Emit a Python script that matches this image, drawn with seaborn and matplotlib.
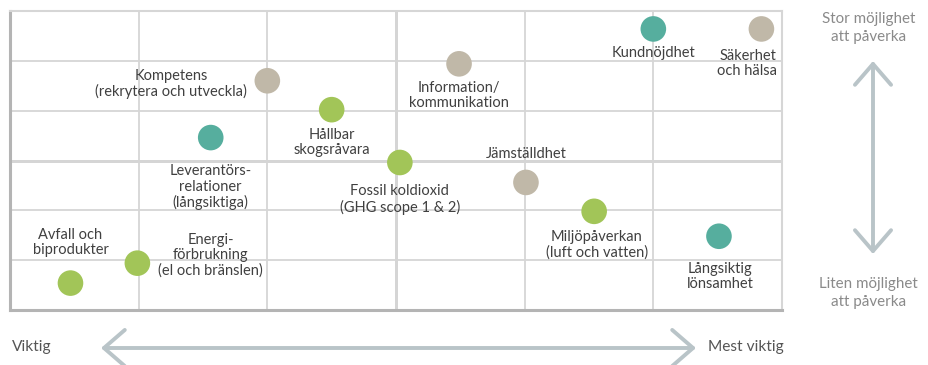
import matplotlib
matplotlib.use("Agg")
import matplotlib.pyplot as plt
import seaborn as sns
import pandas as pd

# ---- data ----
labels = [
    "Kundnöjdhet", "Säkerhet\noch hälsa", "Information/\nkommunikation",
    "Kompetens\n(rekrytera och utveckla)", "Hållbar\nskogsråvara",
    "Leverantörs-\nrelationer\n(långsiktiga)", "Fossil koldioxid\n(GHG scope 1 & 2)",
    "Jämställdhet", "Miljöpåverkan\n(luft och vatten)", "Långsiktig\nlönsamhet",
    "Energi-\nförbrukning\n(el och bränslen)", "Avfall och\nbiprodukter",
]
importance = [5.00, 5.84, 3.49, 2.00, 2.50, 1.56, 3.03, 4.01, 4.54, 5.51, 0.99, 0.47]
influence = [5.64, 5.64, 4.94, 4.60, 4.02, 3.46, 2.96, 2.56, 1.98, 1.48, 0.94, 0.54]
group = ["Ekonomi", "Socialt", "Socialt", "Socialt", "Miljö", "Ekonomi",
         "Miljö", "Socialt", "Miljö", "Ekonomi", "Miljö", "Miljö"]
# label offsets (data units) relative to the point
label_dx = [0.00, -0.14, 0.00, -0.75, 0.00, 0.00, 0.00, 0.00, 0.02, 0.01, 0.57, 0.00]
label_dy = [-0.48, -0.70, -0.64, -0.06, -0.66, -1.00, -0.74, 0.58, -0.68, -0.81, 0.16, 0.82]
label_ha = ["center", "right", "center", "center", "center", "center", "center",
            "center", "center", "center", "center", "center"]

palette = {"Ekonomi": "#56ae9e", "Socialt": "#c0b8a8", "Miljö": "#a2c558"}

df = pd.DataFrame({"label": labels, "x": importance, "y": influence, "group": group})

sns.set_theme(style="white")
plt.rcParams["font.family"] = ["Lato", "DejaVu Sans"]

W, H = 929, 365
fig = plt.figure(figsize=(W / 100, H / 100), dpi=100)
ax = fig.add_axes([10 / W, (H - 310) / H, 772 / W, 299 / H])

ax.set_xlim(0, 6)
ax.set_ylim(0, 6)
ax.set_xticks(range(7))
ax.set_yticks(range(7))
ax.tick_params(length=0, labelbottom=False, labelleft=False)
ax.grid(True, color="#d6d6d6", linewidth=1.3)
ax.axvline(3, color="#d0d0d0", linewidth=2.0, zorder=0.5)
ax.axhline(3, color="#d0d0d0", linewidth=2.0, zorder=0.5)
for side in ["top", "right"]:
    ax.spines[side].set_color("#d6d6d6")
    ax.spines[side].set_linewidth(1.5)
for side in ["left", "bottom"]:
    ax.spines[side].set_color("#b4b4b4")
    ax.spines[side].set_linewidth(2.2)
ax.set_axisbelow(True)

sns.scatterplot(data=df, x="x", y="y", hue="group", palette=palette, s=340,
                edgecolor="none", legend=False, ax=ax, zorder=3, clip_on=False)
ax.set_xlabel("")
ax.set_ylabel("")

for lab, x, y, dx, dy, ha in zip(labels, importance, influence, label_dx, label_dy, label_ha):
    tx = x + dx
    if ha == "right":
        tx = 5.96
    ax.text(tx, y + dy, lab, ha=ha, va="center", multialignment=ha,
            fontsize=10.5, color="#404040", linespacing=1.12, zorder=4)

# axis annotations
grey_txt = "#8a8a8a"
fig.text(12 / W, (H - 347) / H, "Viktig", ha="left", va="center", fontsize=11.2, color="#555555")
fig.text(784 / W, (H - 347) / H, "Mest viktig", ha="right", va="center", fontsize=11.2, color="#555555")
fig.text(868.5 / W, (H - 28) / H, "Stor möjlighet\natt påverka", ha="center", va="center",
         fontsize=10.9, color=grey_txt, linespacing=1.4)
fig.text(868.5 / W, (H - 293) / H, "Liten möjlighet\natt påverka", ha="center", va="center",
         fontsize=10.9, color=grey_txt, linespacing=1.4)

arrow_col = "#b9c4c8"
ap = dict(arrowstyle="<->,head_length=1.5,head_width=1.3", mutation_scale=10,
          color=arrow_col, lw=2.8, shrinkA=0, shrinkB=0, capstyle="round", joinstyle="round")
fig.add_artist(matplotlib.patches.FancyArrowPatch(
    (101 / W, (H - 348) / H), (696 / W, (H - 348) / H), transform=fig.transFigure, **ap))
fig.add_artist(matplotlib.patches.FancyArrowPatch(
    (873 / W, (H - 61) / H), (873 / W, (H - 254) / H), transform=fig.transFigure, **ap))

fig.savefig("out.png", dpi=100, facecolor="white")
